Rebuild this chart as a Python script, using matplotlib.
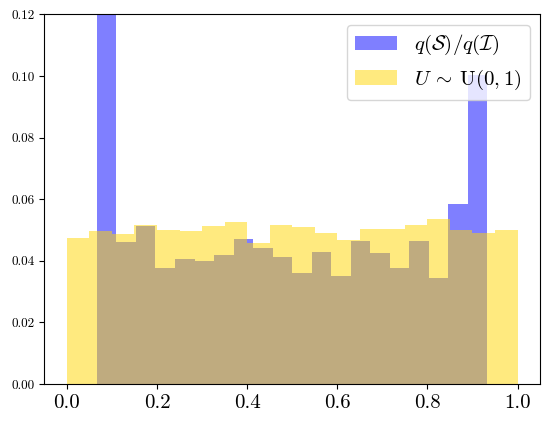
import numpy as np
import matplotlib
matplotlib.use("Agg")
import matplotlib.pyplot as plt

plt.rcParams['font.family'] = 'serif'
plt.rcParams['font.serif'] = ['cmr10']
plt.rcParams['mathtext.fontset'] = 'cm'
plt.rcParams['axes.unicode_minus'] = False
plt.rcParams['axes.formatter.use_mathtext'] = True

# Ratio histogram q(S)/q(I): 20 bins between its min and max
ratio_lo, ratio_hi = 0.0667, 0.9333
ratio_freq = [0.130, 0.0462, 0.0514, 0.0378, 0.0406, 0.0399, 0.0419, 0.0471, 0.0441, 0.0412,
              0.0360, 0.0428, 0.0351, 0.0464, 0.0425, 0.0376, 0.0464, 0.0344, 0.0584, 0.1003]

# Uniform reference histogram: 20 bins on [0, 1]
unif_lo, unif_hi = 0.0, 1.0
unif_freq = [0.0474, 0.0497, 0.0487, 0.0516, 0.0500, 0.0497, 0.0513, 0.0526, 0.0458, 0.0516,
             0.0510, 0.0490, 0.0467, 0.0503, 0.0503, 0.0516, 0.0535, 0.0500, 0.0490, 0.0500]

xticks = [0.0, 0.2, 0.4, 0.6, 0.8, 1.0]
yticks = [0.00, 0.02, 0.04, 0.06, 0.08, 0.10, 0.12]

fig = plt.figure(figsize=(5.5, 4.23), dpi=100)
ax = fig.add_axes([0.0805, 0.092, 0.9015, 0.874])

r_edges = np.linspace(ratio_lo, ratio_hi, len(ratio_freq) + 1)
u_edges = np.linspace(unif_lo, unif_hi, len(unif_freq) + 1)

ax.hist(r_edges[:-1], bins=r_edges, weights=ratio_freq, color='blue', alpha=0.5,
        label=r'$q(\mathcal{S})/q(\mathcal{I})$')
ax.hist(u_edges[:-1], bins=u_edges, weights=unif_freq, color='gold', alpha=0.5,
        label=r'$U\:\sim\:\mathrm{U}(0,1)$')

ax.set_ylim(0, 0.12)
ax.set_xlim(-0.05, 1.05)
ax.set_xticks(xticks)
ax.set_xticklabels([f'{t:.1f}' for t in xticks], fontsize=15)
ax.set_yticks(yticks)
ax.set_yticklabels([f'{t:.2f}' for t in yticks], fontsize=9.5)

ax.legend(loc='upper right', fontsize=15)

fig.savefig('out.png', dpi=100)
